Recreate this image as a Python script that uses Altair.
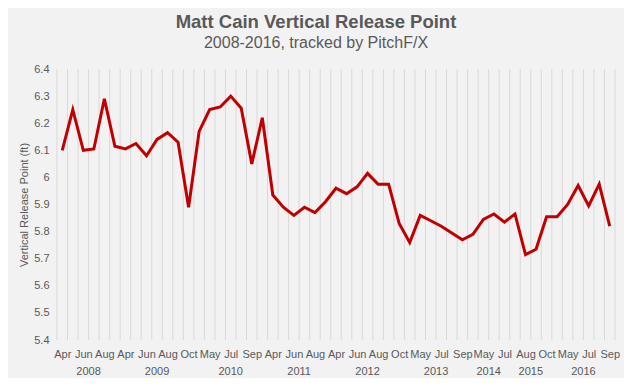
import json
import altair as alt
import pandas as pd

# ---- data ----
years = (["2008"] * 6 + ["2009"] * 7 + ["2010"] * 7 + ["2011"] * 6 + ["2012"] * 7
         + ["2013"] * 6 + ["2014"] * 4 + ["2015"] * 4 + ["2016"] * 6)
months = (["Apr", "May", "Jun", "Jul", "Aug", "Sep"]
          + ["Apr", "May", "Jun", "Jul", "Aug", "Sep", "Oct"]
          + ["Apr", "May", "Jun", "Jul", "Aug", "Sep", "Oct"]
          + ["Apr", "May", "Jun", "Jul", "Aug", "Sep"]
          + ["Apr", "May", "Jun", "Jul", "Aug", "Sep", "Oct"]
          + ["Apr", "May", "Jun", "Jul", "Aug", "Sep"]
          + ["Apr", "May", "Jun", "Jul"]
          + ["Jul", "Aug", "Sep", "Oct"]
          + ["Apr", "May", "Jun", "Jul", "Aug", "Sep"])
release = [6.10, 6.25, 6.10, 6.105, 6.29, 6.115,
           6.105, 6.125, 6.08, 6.14, 6.165, 6.13, 5.89,
           6.17, 6.25, 6.26, 6.30, 6.255, 6.05, 6.22,
           5.935, 5.89, 5.86, 5.89, 5.87, 5.91,
           5.96, 5.94, 5.965, 6.015, 5.975, 5.975, 5.83,
           5.76, 5.86, 5.84, 5.82, 5.795, 5.77,
           5.79, 5.845, 5.865, 5.835,
           5.865, 5.715, 5.735, 5.855,
           5.855, 5.90, 5.97, 5.895, 5.975, 5.82]
y_ticks = [5.4, 5.5, 5.6, 5.7, 5.8, 5.9, 6.0, 6.1, 6.2, 6.3, 6.4]

n = len(release)
df = pd.DataFrame({"idx": list(range(n)), "month": months, "year": years, "value": release})
bounds = pd.DataFrame({"b": [i - 0.5 for i in range(n + 1)]})

FONT = "Liberation Sans"
GREY = "#595959"

x_scale = alt.Scale(domain=[-0.5, n - 0.5], nice=False, zero=False)
y_scale = alt.Scale(domain=[5.4, 6.4], nice=False, zero=False)

label_expr = "datum.value % 2 == 0 ? " + json.dumps(months) + "[datum.value] : ''"

x_axis = alt.Axis(values=list(range(n)), labelExpr=label_expr, title=None,
                  grid=False, ticks=False, tickSize=0, domain=False,
                  labelPadding=8, labelFontSize=11, labelColor=GREY,
                  labelFont=FONT, labelOverlap=False, labelFlush=False)

grid = alt.Chart(bounds).mark_rule(color="#d9d9d9", strokeWidth=1).encode(
    x=alt.X("b:Q", scale=x_scale, axis=x_axis)
)

line = alt.Chart(df).mark_line(color="#c00000", strokeWidth=3).encode(
    x=alt.X("idx:Q", scale=x_scale, axis=x_axis),
    y=alt.Y("value:Q", scale=y_scale,
            axis=alt.Axis(values=y_ticks, format=".1~f", title="Vertical Release Point (ft)",
                          grid=False, ticks=False, tickSize=0, domain=False,
                          labelPadding=8, labelFontSize=11, labelColor=GREY, labelFont=FONT,
                          titleFontSize=11, titleColor=GREY, titleFont=FONT,
                          titleFontWeight="normal", titlePadding=4)),
)

year_text = alt.Chart(df).transform_aggregate(
    mid="mean(idx)", groupby=["year"]
).mark_text(font=FONT, fontSize=11, color=GREY, baseline="middle", align="center").encode(
    x=alt.X("mid:Q", scale=x_scale, axis=x_axis),
    y=alt.value(303),
    text="year:N",
)

chart = alt.layer(grid, line, year_text).properties(
    width=558,
    height=271,
    autosize=alt.AutoSizeParams(type="none"),
    padding={"left": 49, "top": 61, "right": 9, "bottom": 38},
    background="#f2f2f2",
    title=alt.TitleParams(
        text="Matt Cain Vertical Release Point",
        subtitle="2008-2016, tracked by PitchF/X",
        font=FONT, fontSize=18.5, fontWeight="bold", color=GREY,
        subtitleFont=FONT, subtitleFontSize=16, subtitleColor=GREY,
        subtitlePadding=4, anchor="middle", offset=12, dx=-20,
    ),
).configure_view(stroke=None)

chart.save("out.html", embed_options={"renderer": "svg", "actions": False})
